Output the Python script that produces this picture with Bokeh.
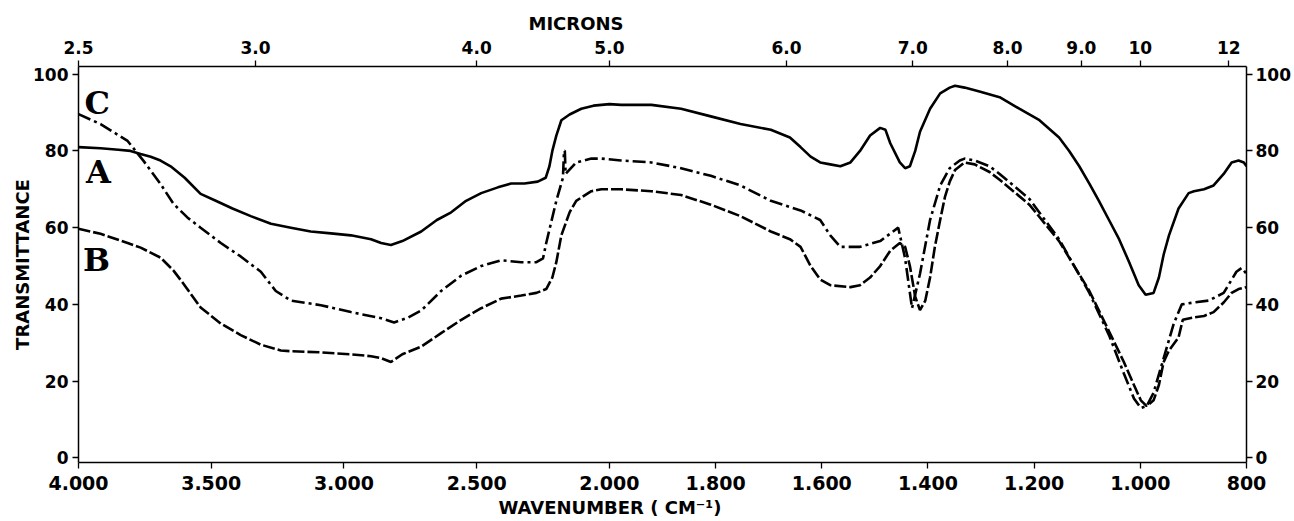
import numpy as np
from bokeh.plotting import figure
from bokeh.models import Range1d, LinearAxis, FixedTicker, Title
from bokeh.core.properties import value
from bokeh.embed import file_html
from bokeh.resources import INLINE

# ---- data (wavenumber cm-1, transmittance %) ----
wn_a = [4000, 3917, 3850, 3804, 3766, 3728, 3691, 3653, 3600, 3540, 3483, 3420, 3351, 3275, 3200, 3125, 3049, 2974,
        2898, 2860, 2823, 2780, 2709, 2650, 2596, 2540, 2483, 2420, 2370, 2320, 2270, 2240, 2226, 2215, 2200, 2181,
        2150, 2106, 2060, 2030, 2000, 1978, 1921, 1865, 1809, 1753, 1696, 1660, 1640, 1621, 1603, 1584, 1565, 1546,
        1528, 1509, 1490, 1480, 1471, 1453, 1443, 1434, 1424, 1415, 1396, 1377, 1359, 1349, 1331, 1303, 1265, 1228,
        1190, 1153, 1134, 1115, 1096, 1078, 1059, 1040, 1021, 1003, 990, 975, 965, 956, 946, 928, 909, 899, 880,
        862, 843, 828, 815, 805, 800]
t_a = [81, 80.7, 80.3, 80, 79.2, 78.5, 77.5, 76, 73, 68.8, 67, 65, 63, 61, 60, 59, 58.5, 58,
       57, 56, 55.5, 56.5, 59, 62, 64, 67, 69, 70.5, 71.5, 71.5, 72, 73, 76, 80, 84, 88,
       89.5, 91, 91.8, 92, 92.2, 92, 92, 91, 89, 87, 85.5, 83.5, 81, 78.5, 77, 76.5, 76, 77,
       80, 84, 86, 85.5, 82, 77, 75.5, 76, 80, 85, 91, 95, 96.5, 97, 96.5, 95.5, 94, 91,
       88, 83.5, 80, 76, 71.5, 67, 62, 57, 51, 45, 42.5, 43, 47, 53, 58, 65, 69, 69.5, 70,
       71, 74, 77, 77.5, 77, 76]

wn_c = [4000, 3917, 3815, 3755, 3691, 3642, 3589, 3540, 3464, 3389, 3313, 3257, 3200, 3087, 2974, 2860, 2811, 2760,
        2709, 2634, 2558, 2483, 2408, 2332, 2275, 2250, 2238, 2200, 2175, 2171, 2168, 2165, 2125, 2068, 2030, 1978,
        1921, 1865, 1809, 1753, 1696, 1640, 1603, 1584, 1565, 1528, 1490, 1456, 1443, 1430, 1415, 1396, 1377, 1359,
        1340, 1331, 1312, 1284, 1265, 1209, 1153, 1096, 1059, 1031, 1012, 999, 988, 975, 956, 937, 922, 899, 871,
        843, 819, 809, 800]
t_c = [89.6, 87, 82.6, 77.4, 71.4, 66.2, 62.6, 60, 56, 52.5, 48.5, 43.5, 41, 39.8, 38, 36.4, 35.3, 36.5,
       38.4, 43.5, 47.5, 50, 51.5, 51, 51, 52, 56, 67, 73, 80, 80, 74, 77, 78, 78, 77.5,
       77, 75.5, 73.5, 71, 67, 64.5, 62, 58, 55, 55, 56.5, 60, 52, 39, 48, 62, 71, 75.5,
       77.5, 78, 77.5, 76, 74, 67.5, 57, 43, 32, 22, 15.5, 13, 13.5, 17, 26, 35, 40, 40.5, 41,
       43, 48.5, 49.5, 48]

wn_b = [4000, 3917, 3815, 3766, 3691, 3642, 3608, 3540, 3464, 3389, 3313, 3238, 3200, 3087, 2974, 2898, 2860, 2823,
        2780, 2709, 2634, 2558, 2483, 2408, 2332, 2275, 2238, 2215, 2200, 2181, 2150, 2125, 2068, 2030, 1978, 1921,
        1865, 1809, 1753, 1696, 1660, 1640, 1621, 1603, 1584, 1546, 1528, 1509, 1490, 1471, 1453, 1443, 1434, 1424,
        1415, 1405, 1396, 1387, 1377, 1368, 1359, 1349, 1331, 1312, 1284, 1265, 1209, 1153, 1096, 1059, 1031, 1012,
        999, 988, 975, 965, 956, 946, 928, 920, 900, 880, 862, 843, 828, 815, 800]
t_b = [59.7, 58.4, 56, 54.8, 52.2, 48.8, 45.7, 39.2, 35, 32, 29.5, 28, 27.8, 27.5, 27, 26.5, 26, 25,
       27, 29, 32.5, 36, 39, 41.5, 42.3, 43, 44, 47, 51, 58, 64, 67, 69.5, 70, 70, 69.5,
       68.5, 66, 63, 59, 57, 55, 50, 46.5, 45, 44.5, 45, 47, 50, 54, 56, 55, 50, 42,
       38.5, 41, 47, 55, 62, 68, 72, 75, 77, 76.5, 74.5, 72.5, 66, 56.5, 43.5, 33, 25, 19,
       15, 13.5, 15, 19, 25, 28, 31.4, 36, 36.6, 37, 38, 40.5, 43, 44, 44.5]

wn_ticks = [4000, 3500, 3000, 2500, 2000, 1800, 1600, 1400, 1200, 1000, 800]
wn_tick_labels = ["4.000", "3.500", "3.000", "2.500", "2.000", "1.800", "1.600", "1.400", "1.200", "1.000", "800"]
micron_ticks = [2.5, 3.0, 4.0, 5.0, 6.0, 7.0, 8.0, 9.0, 10, 12]
micron_labels = ["2.5", "3.0", "4.0", "5.0", "6.0", "7.0", "8.0", "9.0", "10", "12"]
t_ticks = [0, 20, 40, 60, 80, 100]
curve_names = ["C", "A", "B"]


def to_u(wn):
    """Chart-paper abscissa: scale doubles below 2000 cm-1."""
    wn = np.asarray(wn, dtype=float)
    return np.where(wn >= 2000, 4000 - wn, 2000 + 2.0 * (2000 - wn))


FONT = "DejaVu Sans"

p = figure(width=1293, height=521, x_range=Range1d(0, 4400), y_range=Range1d(-1.2, 102),
           output_backend="svg", toolbar_location=None,
           x_axis_location=None, y_axis_location=None,
           min_border_left=78, min_border_right=45, min_border_top=66, min_border_bottom=59)
p.grid.visible = False
p.outline_line_color = None
p.background_fill_color = "white"
p.border_fill_color = "white"


def style_axis(ax, size, tick=6):
    ax.axis_line_color = "black"
    ax.axis_line_width = 1.5
    ax.major_tick_line_color = "black"
    ax.major_tick_line_width = 1.3
    ax.major_tick_out = tick
    ax.major_tick_in = 0
    ax.minor_tick_line_color = None
    ax.major_label_text_font = FONT
    ax.major_label_text_font_style = "bold"
    ax.major_label_text_font_size = size
    ax.major_label_text_color = "black"
    ax.axis_label_text_font = FONT
    ax.axis_label_text_font_style = "bold"
    ax.axis_label_text_font_size = "18px"
    ax.axis_label_text_color = "black"


# bottom: wavenumber
bt = [int(round(float(u))) for u in to_u(wn_ticks)]
bottom = LinearAxis(ticker=FixedTicker(ticks=bt, minor_ticks=[]),
                    major_label_overrides={k: v for k, v in zip(bt, wn_tick_labels)})
style_axis(bottom, "19px")
bottom.major_label_standoff = 7
p.add_layout(bottom, "below")

# top: microns
tt = [int(round(float(u))) for u in to_u([10000.0 / m for m in micron_ticks])]
top = LinearAxis(ticker=FixedTicker(ticks=tt, minor_ticks=[]),
                 major_label_overrides={k: v for k, v in zip(tt, micron_labels)})
style_axis(top, "17px")
top.major_label_standoff = 7
p.add_layout(top, "above")

# left / right transmittance
left = LinearAxis(ticker=FixedTicker(ticks=t_ticks, minor_ticks=[]), axis_label="TRANSMITTANCE")
style_axis(left, "17px")
left.major_label_standoff = 4
left.axis_label_standoff = -3
p.add_layout(left, "left")

right = LinearAxis(ticker=FixedTicker(ticks=t_ticks, minor_ticks=[]))
style_axis(right, "17px")
right.major_label_standoff = 3
p.add_layout(right, "right")

# axis titles, positioned along the axes as on the chart paper
p.add_layout(Title(text="MICRONS", align="left", offset=450, text_font=FONT, text_font_style="bold",
                   text_font_size="18px", text_color="black", standoff=8), "above")
p.add_layout(Title(text="WAVENUMBER ( CM\u207b\u00b9)", align="left", offset=420, text_font=FONT,
                   text_font_style="bold", text_font_size="18px", text_color="black", standoff=4), "below")

# spectra
p.line(to_u(wn_a), t_a, line_color="black", line_width=2.6)
p.line(to_u(wn_c), t_c, line_color="black", line_width=2.6, line_dash="13 4 3 4")
p.line(to_u(wn_b), t_b, line_color="black", line_width=2.6, line_dash="12 3")

# curve letters
p.text(x=[71, 75, 68], y=[92.4, 74.6, 51.7], text=curve_names,
       text_font=value("DejaVu Serif"), text_font_style="bold", text_font_size="32px",
       text_align="center", text_baseline="middle", text_color="black")

open("out.html", "w").write(file_html(p, INLINE))
